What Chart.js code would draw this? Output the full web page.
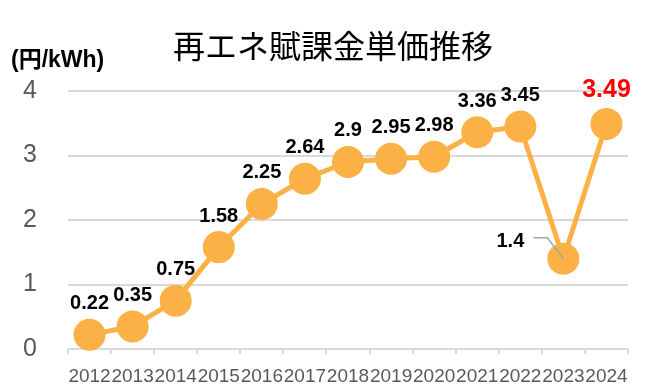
<!DOCTYPE html>
<html>
<head>
<meta charset="utf-8">
<script src="https://cdn.jsdelivr.net/npm/chart.js@4"></script>
<style>
html,body{margin:0;padding:0;background:#fff;}
#wrap{width:655px;height:386px;position:relative;}
</style>
</head>
<body>
<div id="wrap"><canvas id="c" width="655" height="386"></canvas></div>
<script>
const chartTitle = "再エネ賦課金単価推移";
const unitLabel = "(円/kWh)";
const years = ["2012","2013","2014","2015","2016","2017","2018","2019","2020","2021","2022","2023","2024"];
const surcharge = [0.22,0.35,0.75,1.58,2.25,2.64,2.9,2.95,2.98,3.36,3.45,1.4,3.49];
const yTicks = [0,1,2,3,4];

const ORANGE = '#FBB146';
const NUM_FONT = '"Liberation Sans", Arial, sans-serif';

const labelPlugin = {
  id: 'labelPlugin',
  afterDraw(chart) {
    const ctx = chart.ctx;
    ctx.save();
    // title
    ctx.fillStyle = '#000';
    ctx.font = '32px "Noto Sans CJK JP", sans-serif';
    ctx.textAlign = 'center';
    ctx.textBaseline = 'middle';
    ctx.fillText(chartTitle, 333, 46);
    // unit
    ctx.font = 'bold 23px "Liberation Sans", "Noto Sans CJK JP", sans-serif';
    ctx.textAlign = 'left';
    ctx.fillText(unitLabel, 11, 61);

    const meta = chart.getDatasetMeta(0);
    const last = surcharge.length - 1;
    meta.data.forEach((pt, i) => {
      const text = String(surcharge[i]);
      let x = pt.x, y = pt.y - 31, color = '#000', size = 20;
      if (i === last) { color = '#FF0000'; size = 25; y = pt.y - 34; }
      if (i === 11) {
        x = pt.x - 53; y = pt.y - 17;
        ctx.strokeStyle = '#A6A6A6';
        ctx.lineWidth = 1.5;
        ctx.beginPath();
        ctx.moveTo(pt.x - 30, pt.y - 21);
        ctx.lineTo(pt.x - 16, pt.y - 21);
        ctx.lineTo(pt.x, pt.y);
        ctx.stroke();
      }
      ctx.fillStyle = color;
      ctx.font = 'bold ' + size + 'px ' + NUM_FONT;
      ctx.textAlign = 'center';
      ctx.textBaseline = 'middle';
      ctx.fillText(text, x, y);
    });
    ctx.restore();
  }
};

new Chart(document.getElementById('c'), {
  type: 'line',
  data: {
    labels: years,
    datasets: [{
      data: surcharge,
      borderColor: ORANGE,
      backgroundColor: ORANGE,
      borderWidth: 5,
      pointRadius: 16,
      pointHoverRadius: 16,
      pointBackgroundColor: ORANGE,
      pointBorderWidth: 0,
      tension: 0,
      clip: false
    }]
  },
  options: {
    responsive: false,
    animation: false,
    events: [],
    layout: { padding: { top: 91, right: 27, left: 23, bottom: 0 } },
    plugins: { legend: { display: false }, title: { display: false }, tooltip: { enabled: false } },
    scales: {
      x: {
        offset: true,
        grid: { offset: true, drawOnChartArea: false, drawTicks: true, tickLength: 5, color: '#D9D9D9', lineWidth: 2 },
        border: { display: true, color: '#D9D9D9', width: 2 },
        ticks: { color: '#595959', font: { size: 19, family: NUM_FONT }, maxRotation: 0, minRotation: 0, autoSkip: false, padding: 11 },
        afterFit(scale) { scale.height = 37; }
      },
      y: {
        min: 0, max: 4,
        afterBuildTicks(scale) { scale.ticks = yTicks.map(v => ({ value: v })); },
        grid: { color: '#D9D9D9', lineWidth: 2, drawTicks: false },
        border: { display: false },
        ticks: { color: '#595959', font: { size: 25, family: NUM_FONT }, padding: 0, crossAlign: 'far' },
        afterFit(scale) { scale.width = 45; }
      }
    }
  },
  plugins: [labelPlugin]
});
</script>
</body>
</html>
